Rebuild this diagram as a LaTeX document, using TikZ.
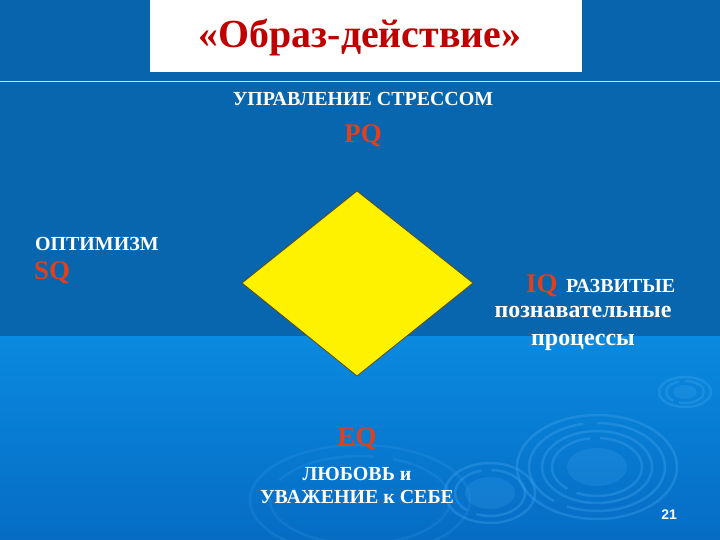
\documentclass[tikz,border=0pt]{standalone}
\usepackage{fontspec}
\setmainfont{Liberation Serif}
\newfontfamily\arialf{Liberation Sans}
\definecolor{topblue}{HTML}{0864AC}
\definecolor{midblue}{HTML}{0866AE}
\definecolor{lowtop}{HTML}{0A8AE0}
\definecolor{lowbot}{HTML}{066CC4}
\definecolor{titlered}{HTML}{C00000}
\definecolor{qred}{HTML}{E0401C}
\definecolor{ringc}{HTML}{3AA0EC}
\definecolor{diaedge}{HTML}{5A4A20}
\tikzset{
  wlabel/.style={text=white, font=\bfseries\fontsize{20}{22}\selectfont, inner sep=0pt},
  wlower/.style={text=white, font=\bfseries\fontsize{24}{26}\selectfont, inner sep=0pt},
  qlabel/.style={text=qred, font=\bfseries\fontsize{27}{29}\selectfont, inner sep=0pt},
  ring/.style={draw=ringc, line width=2.5pt, opacity=0.4},
}
\begin{document}
\begin{tikzpicture}[x=1bp,y=-1bp]
\useasboundingbox (0,0) rectangle (720,540);
% background
\fill[topblue] (0,0) rectangle (720,80);
\fill[midblue] (0,80) rectangle (720,336);
\shade[top color=lowtop, bottom color=lowbot] (0,336) rectangle (720,540);
\draw[white!80!topblue, line width=1.2bp] (0,81.5) -- (720,81.5);
% swirls
\begin{scope}
\clip (0,336) rectangle (720,540);
\draw[ring] (597,467) ellipse [x radius=80, y radius=52];
\draw[ring, dash pattern=on 120pt off 14pt] (597,467) ellipse [x radius=68, y radius=44];
\draw[ring] (597,467) ellipse [x radius=55, y radius=36];
\draw[ring, dash pattern=on 80pt off 10pt] (597,467) ellipse [x radius=45, y radius=29];
\fill[ringc, opacity=0.25] (597,467) ellipse [x radius=30, y radius=19];
\draw[ring] (490,493) ellipse [x radius=45, y radius=30];
\draw[ring, dash pattern=on 60pt off 10pt] (490,493) ellipse [x radius=35, y radius=23];
\fill[ringc, opacity=0.25] (490,493) ellipse [x radius=25, y radius=16];
\draw[ring] (685,392) ellipse [x radius=26, y radius=15];
\draw[ring, dash pattern=on 30pt off 6pt] (685,392) ellipse [x radius=19, y radius=11];
\fill[ringc, opacity=0.3] (685,392) ellipse [x radius=12, y radius=7];
\draw[ring, opacity=0.2] (360,500) ellipse [x radius=110, y radius=55];
\draw[ring, opacity=0.2, dash pattern=on 100pt off 20pt] (360,500) ellipse [x radius=90, y radius=44];
\end{scope}
% title box
\fill[white] (150,0) rectangle (582,72);
\node (title) [text=titlered, font=\bfseries\fontsize{40}{42}\selectfont, inner sep=0pt] at (360,37) {«Образ-действие»};
% diamond
\draw[fill=yellow, draw=diaedge, line width=0.8bp] (357,191) -- (473,283) -- (357,376) -- (242,283) -- cycle;
% labels
\node (stress) [wlabel] at (363,99) {УПРАВЛЕНИЕ СТРЕССОМ};
\node (pq) [qlabel] at (363,136) {PQ};
\node (opt) [wlabel, anchor=west] at (35,244) {ОПТИМИЗМ};
\node (sq) [qlabel, anchor=west] at (34,273) {SQ};
\node (iq) [qlabel, anchor=base west] at (526,292) {IQ};
\node (razv) [wlabel, anchor=base west] at (566,292) {РАЗВИТЫЕ};
\node (pozn) [wlower] at (583,312) {познавательные};
\node (proc) [wlower] at (583,342) {процессы};
\node (eq) [qlabel] at (357,439) {EQ};
\node (lub) [wlabel] at (357,474) {ЛЮБОВЬ и};
\node (uva) [wlabel] at (357,497) {УВАЖЕНИЕ к СЕБЕ};
\node (num) [text=white, font=\arialf\bfseries\fontsize{14}{16}\selectfont, inner sep=0pt] at (669,515) {21};
\end{tikzpicture}
\end{document}
